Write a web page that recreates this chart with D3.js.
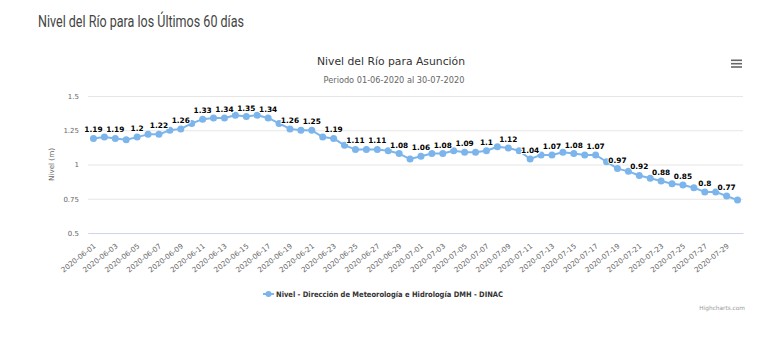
<!DOCTYPE html>
<html>
<head>
<meta charset="utf-8">
<script src="https://cdn.jsdelivr.net/npm/d3@7"></script>
<style>
  body { margin: 0; background: #fff; }
  svg { display: block; }
</style>
</head>
<body>
<div id="chart"></div>
<script>
// daily river level, Asunción, June 1 - July 30 2020
var startDate = "2020-06-01",
    endDate = "2020-07-30";
var nivel = [1.19, 1.20, 1.19, 1.18, 1.20, 1.22, 1.22, 1.25, 1.26, 1.30,
             1.33, 1.34, 1.34, 1.36, 1.35, 1.36, 1.34, 1.30, 1.26, 1.25,
             1.25, 1.20, 1.19, 1.14, 1.11, 1.11, 1.11, 1.10, 1.08, 1.04,
             1.06, 1.08, 1.08, 1.10, 1.09, 1.09, 1.10, 1.13, 1.12, 1.10,
             1.04, 1.07, 1.07, 1.09, 1.08, 1.07, 1.07, 1.02, 0.97, 0.95,
             0.92, 0.90, 0.88, 0.86, 0.85, 0.83, 0.80, 0.80, 0.77, 0.74];
var yTicks = [0.5, 0.75, 1, 1.25, 1.5];

var fmtDay = d3.timeFormat("%Y-%m-%d");
var dias = d3.timeDay.range(new Date(startDate + "T00:00"), d3.timeDay.offset(new Date(endDate + "T00:00"), 1)).map(fmtDay);
var data = dias.map(function(d, i) { return {fecha: d, nivel: nivel[i]}; });

var W = 770, H = 340;
var margin = {left: 88, right: 27, top: 96, bottom: 107};

var svg = d3.select("#chart").append("svg")
    .attr("width", W)
    .attr("height", H);

svg.append("rect").attr("width", W).attr("height", H).attr("fill", "#fff");

// page heading
svg.append("text")
    .attr("x", 38).attr("y", 27)
    .attr("font-family", "Roboto, sans-serif")
    .attr("font-size", 17)
    .attr("fill", "#444")
    .attr("textLength", 206)
    .attr("lengthAdjust", "spacingAndGlyphs")
    .text("Nivel del Río para los Últimos 60 días");

var font = "'DejaVu Sans', Verdana, sans-serif";

svg.append("text")
    .attr("x", 391).attr("y", 65)
    .attr("text-anchor", "middle")
    .attr("font-family", font)
    .attr("font-size", 10.8)
    .attr("fill", "#333")
    .text("Nivel del Río para Asunción");

svg.append("text")
    .attr("x", 394).attr("y", 83)
    .attr("text-anchor", "middle")
    .attr("font-family", font)
    .attr("font-size", 8.2)
    .attr("fill", "#666")
    .text("Periodo 01-06-2020 al 30-07-2020");

// context menu button
svg.append("g").selectAll("line")
    .data([60.3, 63.7, 67])
  .enter().append("line")
    .attr("x1", 731).attr("x2", 742)
    .attr("y1", function(d) { return d; })
    .attr("y2", function(d) { return d; })
    .attr("stroke", "#666")
    .attr("stroke-width", 1.6);

var x = d3.scaleBand().domain(dias).range([margin.left, W - margin.right]);
var y = d3.scaleLinear().domain([0.5, 1.5]).range([H - margin.bottom, margin.top]);
var cx = function(d) { return x(d.fecha) + x.bandwidth() / 2; };

// gridlines + y labels
var gy = svg.append("g")
    .attr("transform", "translate(" + margin.left + ",0)")
    .call(d3.axisLeft(y).tickValues(yTicks).tickFormat(function(d) { return String(d); })
      .tickSizeInner(-(W - margin.left - margin.right)).tickSizeOuter(0).tickPadding(9));
gy.select(".domain").remove();
gy.selectAll(".tick line").attr("stroke", "#e6e6e6");
gy.selectAll(".tick text")
    .attr("font-family", font)
    .attr("font-size", 7)
    .attr("fill", "#666");

svg.append("text")
    .attr("transform", "translate(54," + y(1) + ") rotate(-90)")
    .attr("text-anchor", "middle")
    .attr("font-family", font)
    .attr("font-size", 7.2)
    .attr("fill", "#666")
    .text("Nivel (m)");

// x axis, every other day
var gx = svg.append("g")
    .attr("transform", "translate(0," + y(0.5) + ")")
    .call(d3.axisBottom(x).tickValues(dias.filter(function(d, i) { return i % 2 === 0; }))
      .tickSize(0).tickPadding(0));
gx.select(".domain").attr("stroke", "#ccd6eb");
gx.selectAll(".tick text")
    .attr("font-family", font)
    .attr("font-size", 7.2)
    .attr("fill", "#666")
    .attr("text-anchor", "end")
    .attr("dy", 0)
    .attr("y", 0)
    .attr("transform", "translate(3,14) rotate(-38)");

// series
var line = d3.line().x(cx).y(function(d) { return y(d.nivel); });

svg.append("path")
    .datum(data)
    .attr("fill", "none")
    .attr("stroke", "#7cb5ec")
    .attr("stroke-width", 2)
    .attr("stroke-linejoin", "round")
    .attr("d", line);

svg.append("g").selectAll("circle")
    .data(data)
  .enter().append("circle")
    .attr("cx", cx)
    .attr("cy", function(d) { return y(d.nivel); })
    .attr("r", 3.5)
    .attr("fill", "#7cb5ec");

svg.append("g").selectAll("text")
    .data(data.filter(function(d, i) { return i % 2 === 0; }))
  .enter().append("text")
    .attr("x", cx)
    .attr("y", function(d) { return y(d.nivel) - 6; })
    .attr("text-anchor", "middle")
    .attr("font-family", font)
    .attr("font-weight", "bold")
    .attr("font-size", 7.4)
    .attr("fill", "#000")
    .attr("stroke", "#fff")
    .attr("stroke-width", 2)
    .attr("paint-order", "stroke")
    .text(function(d) { return String(d.nivel); });

// legend
var lg = svg.append("g").attr("transform", "translate(263,294)");
lg.append("line").attr("x1", 0).attr("x2", 11).attr("stroke", "#7cb5ec").attr("stroke-width", 2);
lg.append("circle").attr("cx", 5.5).attr("r", 3).attr("fill", "#7cb5ec");
lg.append("text")
    .attr("x", 13).attr("y", 2.8)
    .attr("font-family", font)
    .attr("font-weight", "bold")
    .attr("font-size", 7.6)
    .attr("fill", "#333")
    .attr("textLength", 227)
    .attr("lengthAdjust", "spacingAndGlyphs")
    .text("Nivel - Dirección de Meteorología e Hidrología DMH - DINAC");

svg.append("text")
    .attr("x", 745).attr("y", 310)
    .attr("text-anchor", "end")
    .attr("font-family", font)
    .attr("font-size", 5.8)
    .attr("fill", "#999")
    .text("Highcharts.com");
</script>
</body>
</html>
